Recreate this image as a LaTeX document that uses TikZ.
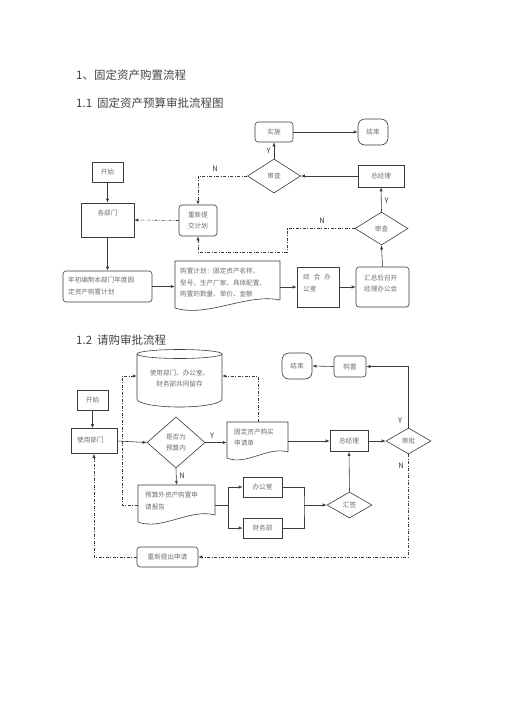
\documentclass[tikz,border=0pt]{standalone}
\usepackage{fontspec}
\setmainfont{Noto Sans CJK SC}
\usetikzlibrary{arrows.meta,shapes.geometric,calc}
\definecolor{lc}{HTML}{3C3C3C}
\definecolor{tc}{HTML}{6E6E6E}
\definecolor{hc}{HTML}{444444}
\tikzset{
  box/.style={draw=lc, line width=0.6pt, rectangle, inner sep=0pt, text=tc, font=\fontsize{6.6}{11}\selectfont},
  rbox/.style={box, rounded corners=3pt},
  term/.style={box, rounded corners=7pt},
  dia/.style={draw=lc, line width=0.6pt, diamond, inner sep=0pt, text=tc, align=center, font=\fontsize{6.6}{11.5}\selectfont},
  ghost/.style={rectangle, inner sep=0pt, text=tc, font=\fontsize{6.6}{11.6}\selectfont},
  txt/.style={inner sep=0pt, text=tc, align=left, font=\fontsize{6.6}{11.6}\selectfont},
  shp/.style={draw=lc, line width=0.6pt},
  arr/.style={draw=lc, line width=0.6pt, -{Latex[length=4pt,width=3.2pt]}},
  dd/.style={arr, dash pattern=on 3pt off 1.6pt on 0.8pt off 1.6pt},
  ddn/.style={draw=lc, line width=0.6pt, dash pattern=on 3pt off 1.6pt on 0.8pt off 1.6pt},
  yn/.style={inner sep=0pt, text=lc, font=\fontsize{7.5}{8}\selectfont},
  title/.style={inner sep=0pt, anchor=west, text=hc, font=\fontsize{11.5}{12}\selectfont},
}
\begin{document}
\begin{tikzpicture}[x=1pt,y=-1pt]
\useasboundingbox (0,0) rectangle (504,713);
\fill[white] (0,0) rectangle (504,713);

% ---------- titles ----------
\node[title] (t1) at (76,75) {1、固定资产购置流程};
\node[title] (t11) at (76,103) {1.1\hspace{5pt}固定资产预算审批流程图};
\node[title] (t12) at (76,340) {1.2\hspace{5pt}请购审批流程};

% ---------- 1.1 ----------
\node[rbox, minimum width=38, minimum height=20] (shishi) at (274,132) {实施};
\node[term, minimum width=30, minimum height=26] (jieshu1) at (373,132) {结束};
\node[dia, minimum width=53, minimum height=34] (shencha1) at (274,176) {审查};
\node[box, minimum width=46, minimum height=22] (zjl1) at (381,176) {总经理};
\node[dia, minimum width=53, minimum height=33] (shencha2) at (381.5,228.5) {审查};
\node[box, minimum width=31, minimum height=20] (kaishi1) at (107.5,172) {开始};
\node[box, minimum width=53, minimum height=34] (gebumen) at (107.5,220) {};
\node[txt] (gebumentxt) at (107.5,213) {各部门};
\node[rbox, minimum width=38, minimum height=31, align=center] (chongxin) at (198,220.5) {重新提\\交计划};
\node[rbox, minimum width=89, minimum height=31] (nianchu) at (107.5,286.5) {};
\node[txt, anchor=west] (nianchutxt) at (68,286) {年初编制本部门年度固\\定资产购置计划};
% document shape: purchase plan
\node[ghost, minimum width=105, minimum height=45] (jihua) at (227.5,283.5) {};
\draw[shp] (175,261) -- (280,261) -- (280,300) .. controls (247,293) and (207,318) .. (175,308) -- cycle;
\node[txt, anchor=west] (jihuatxt) at (180,282.5) {购置计划：固定资产名称、\\型号、生产厂家、具体配置、\\购置的数量、单价、金额};
\node[box, minimum width=42, minimum height=40] (zonghe) at (318,287) {};
\node[txt, anchor=west] (zonghetxt) at (303,283) {综\hspace{4pt}合\hspace{4pt}办\\公室};
\node[rbox, minimum width=53, minimum height=40] (huizong) at (382.5,287) {};
\node[txt, anchor=west] (huizongtxt) at (364,283.5) {汇总后召开\\经理办公会};

\draw[arr] (shishi.east) -- (jieshu1.west);
\draw[arr] (zjl1.west) -- (shencha1.east);
\draw[arr] (shencha1.north) -- (shishi.south) node[yn, pos=0.5, left=3pt] (y1) {Y};
\draw[arr] (shencha2.north) -- (zjl1.south) node[yn, pos=0.45, right=3pt] (y2) {Y};
\draw[arr] (kaishi1.south) -- (gebumen.north);
\draw[arr] (gebumen.south) -- (nianchu.north);
\draw[arr] (nianchu.east) -- (nianchu.east -| jihua.west);
\draw[arr] (zonghe.west -| jihua.east) -- (zonghe.west);
\draw[arr] (zonghe.east) -- (huizong.west);
\draw[arr] (huizong.north) -- (shencha2.south);
\draw[dd] (shencha1.west) -| (chongxin.north);
\node[yn] (n1) at (215,169) {N};
\draw[dd] (chongxin.west) -- (gebumen.east);
\coordinate (c1) at (287,228.5);
\coordinate (c2) at (287,252);
\draw[dd] (shencha2.west) -- (c1) -- (c2) -| (chongxin.south);
\node[yn] (n2) at (322,221) {N};

% ---------- 1.2 ----------
\node[ghost, minimum width=85, minimum height=57, align=center] (cyl) at (179.5,378.5) {使用部门、办公室、\\财务部共同留存};
\draw[shp] (179.5,354) ellipse[x radius=42.5, y radius=4.5];
\draw[shp] (137,354) -- (137,399) arc[start angle=180, end angle=0, x radius=42.5, y radius=8] -- (222,354);

\node[box, minimum width=31, minimum height=20] (kaishi2) at (92.5,400) {开始};
\node[box, minimum width=46, minimum height=25] (shiyong) at (94,441) {};
\node[txt, anchor=west] (shiyongtxt) at (77,440) {使用部门};
\node[dia, minimum width=58, minimum height=51] (yusuan) at (176,442.5) {是否为\\预算内};
% document shape: purchase request form
\node[ghost, minimum width=61, minimum height=38] (sqd) at (257.5,441) {};
\draw[shp] (227,422) -- (288,422) -- (288,452) .. controls (268,446) and (246,466) .. (227,458) -- cycle;
\node[txt, anchor=west] (sqdtxt) at (234,437.5) {固定资产购买\\申请单};
\node[box, minimum width=38, minimum height=21] (zjl2) at (349,441) {总经理};
\node[dia, minimum width=45, minimum height=26] (shenpi) at (408.5,441) {审批};
\node[term, minimum width=30, minimum height=26] (jieshu2) at (297,366) {结束};
\node[rbox, minimum width=32, minimum height=21] (gouzhi) at (350,366.5) {购置};
% document shape: out-of-budget report
\node[ghost, minimum width=77, minimum height=40] (yswai) at (176.5,505) {};
\draw[shp] (138,485) -- (215,485) -- (215,515) .. controls (191,508) and (161,531) .. (138,522) -- cycle;
\node[txt, anchor=west] (yswaitxt) at (145,501) {预算外资产购置申\\请报告};
\node[box, minimum width=39, minimum height=20] (bgs) at (262.5,487) {办公室};
\node[box, minimum width=39, minimum height=20] (cwb) at (262.5,528) {财务部};
\node[dia, minimum width=45, minimum height=26] (huiqian) at (349.5,505) {汇签};
\node[rbox, minimum width=61, minimum height=20] (cxsq) at (167.5,557) {重新提出申请};

\draw[arr] (kaishi2.south) -- (kaishi2.south |- shiyong.north);
\draw[arr] (shiyong.east) -- (yusuan.west);
\draw[arr] (yusuan.east) -- (yusuan.east -| sqd.west);
\node[yn] (y3) at (212,436) {Y};
\draw[arr] (zjl2.west -| sqd.east) -- (zjl2.west);
\draw[arr] (zjl2.east) -- (shenpi.west);
\draw[arr] (shenpi.north) |- (gouzhi.east);
\node[yn] (y4) at (400,421) {Y};
\draw[arr] (gouzhi.west) -- (jieshu2.east);
\draw[dd] (shenpi.south) |- (cxsq.east);
\node[yn] (n3) at (401,466) {N};
\draw[dd] (cxsq.west) -| (shiyong.south);
\draw[arr] (yusuan.south) -- (yswai.north);
\node[yn] (n4) at (182,476) {N};
\coordinate (c3) at (122,505);
\coordinate (c4) at (122,376);
\draw[dd] (yswai.west) -- (c3) -- (c4) -- (c4 -| cyl.west);
\coordinate (c5) at (258,376);
\draw[dd] (c5 |- sqd.north) -- (c5) -- (c5 -| cyl.east);
\coordinate (br) at (228,505);
\draw[shp] (yswai.east) -- (br);
\draw[arr] (br) |- (bgs.west);
\draw[arr] (br) |- (cwb.west);
\coordinate (mg) at (304,505);
\draw[shp] (bgs.east) -| (mg) |- (cwb.east);
\draw[arr] (mg) -- (huiqian.west);
\draw[arr] (huiqian.north) -- (zjl2.south);
\end{tikzpicture}
\end{document}
